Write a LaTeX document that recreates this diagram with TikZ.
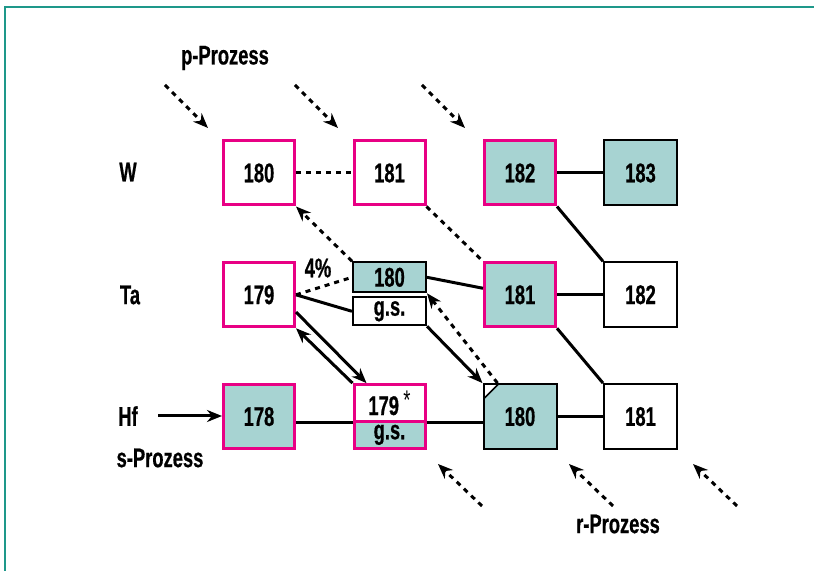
\documentclass[tikz,border=0pt]{standalone}
\usepackage{fontspec}
\setmainfont{Liberation Sans}[FakeStretch=0.68, BoldFeatures={FakeBold=0.6}]
\usepackage{tikz}
\usetikzlibrary{arrows.meta, positioning, calc}

\definecolor{isopink}{RGB}{232,0,132}
\definecolor{isoteal}{RGB}{167,211,210}
\definecolor{framegreen}{RGB}{30,152,138}

\begin{document}
\begin{tikzpicture}[
    x=0.5pt, y=-0.5pt,
    node distance=27.4pt and 28.25pt,
    every node/.style={font=\fontsize{13.5}{16}\selectfont\bfseries},
    iso/.style={draw, line width=1pt, minimum width=36.5pt, minimum height=32.5pt, inner sep=0pt},
    stable/.style={iso, draw=isopink, line width=1.5pt, minimum width=35.5pt, minimum height=32pt},
    shaded/.style={fill=isoteal},
    lbl/.style={inner sep=0pt},
    link/.style={line width=1.5pt},
    dots/.style={line width=1.5pt, dash pattern=on 2.5pt off 2.5pt},
    arrow/.style={link, -{Stealth[length=7.5pt,width=6pt]}},
    dotarrow/.style={dots, -{Stealth[length=7.5pt,width=6pt]}}
]

\useasboundingbox (0,0) rectangle (814,571);
\draw[framegreen, line width=1pt] (5,571) -- (5,7) -- (814,7);

% W row
\node (w180) [stable] at (259,173) {180};
\node (w181) [stable, right=of w180] {181};
\node (w182) [stable, shaded, right=of w181] {182};
\node (w183) [iso, shaded, right=23pt of w182] {183};

% Ta row
\node (ta179) [stable, below=of w180] {179};
\node (ta180) [iso, shaded, below=of w181, minimum height=15pt] {180};
\node (tags) [iso, below=1.5pt of ta180, minimum height=14pt] {g.s.};
\node (ta181) [stable, shaded, below=of w182] {181};
\node (ta182) [iso, below=of w183] {182};

% Hf row
\node (hf178) [stable, shaded, below=of ta179] {178};
\node (hfiso) [stable, minimum height=18.25pt, anchor=north] at (w181 |- hf178.north) {179\,\raisebox{3pt}{\mdseries *}};
\node (hfgs) [stable, shaded, below=-1.5pt of hfiso, minimum height=13.75pt] {g.s.};
\node (hf180) [iso, shaded, below=of ta181, path picture={
    \fill[white] (path picture bounding box.north west) -- ++(0pt,-7.5pt) -- ++(7.5pt,7.5pt) -- cycle;
    \draw[line width=0.8pt] (path picture bounding box.north west) ++(0pt,-7.5pt) -- ++(7.5pt,7.5pt);}] {180};
\node (hf181) [iso, below=of ta182] {181};

% labels
\node (w) [lbl] at (128,172) {W};
\node (ta) [lbl] at (130,295) {Ta};
\node (hf) [lbl] at (128,416) {Hf};
\node (sproc) [lbl] at (160,458) {s-Prozess};
\node (pproc) [lbl] at (225,58) {p-Prozess};
\node (rproc) [lbl] at (618,524) {r-Prozess};
\node (pct) [lbl] at (318,268) {4\%};

\coordinate (sin) at (158,416);
\coordinate (cut) at ($(hf180.north west)+(15,0)$);

% connectors
\draw[dots] (w180) -- (w181);
\draw[link] (w182) -- (w183);
\draw[link] (w182.south east) -- (ta182.north west);
\draw[dots] (w181.south east) -- (ta181.north west);
\draw[dotarrow] (ta180.north west) -- (w180.south east);
\draw[dots] (ta179.east) -- (ta180.west);
\draw[link] (ta179.east) -- (tags.west);
\draw[link] (ta180.east) -- (ta181.170);
\draw[link] (ta181) -- (ta182);
\draw[link] (ta181.south east) -- (hf181.north west);
\draw[arrow] (tags.south east) -- (hf180.north west);
\draw[dotarrow] (cut) -- (ta180.south east);
\draw[arrow] (ta179.-25) -- ($(hfiso.north west)+(14,0)$);
\draw[arrow] (hfiso.north west) -- (ta179.south east);
\draw[arrow] (sin) -- (sin -| hf178.west);
\draw[link] (hf178.east |- hfiso.south) -- (hfiso.south west);
\draw[link] (hfiso.south east) -- (hf180.west |- hfiso.south);
\draw[link] (hf180) -- (hf181);

% p- and r-process feeds
\foreach \x in {165,295,422}
    \draw[dotarrow] (\x,85) -- ++(43,43);
\foreach \x in {482,613,737}
    \draw[dotarrow] (\x,506) -- ++(-44,-42);

\end{tikzpicture}
\end{document}
